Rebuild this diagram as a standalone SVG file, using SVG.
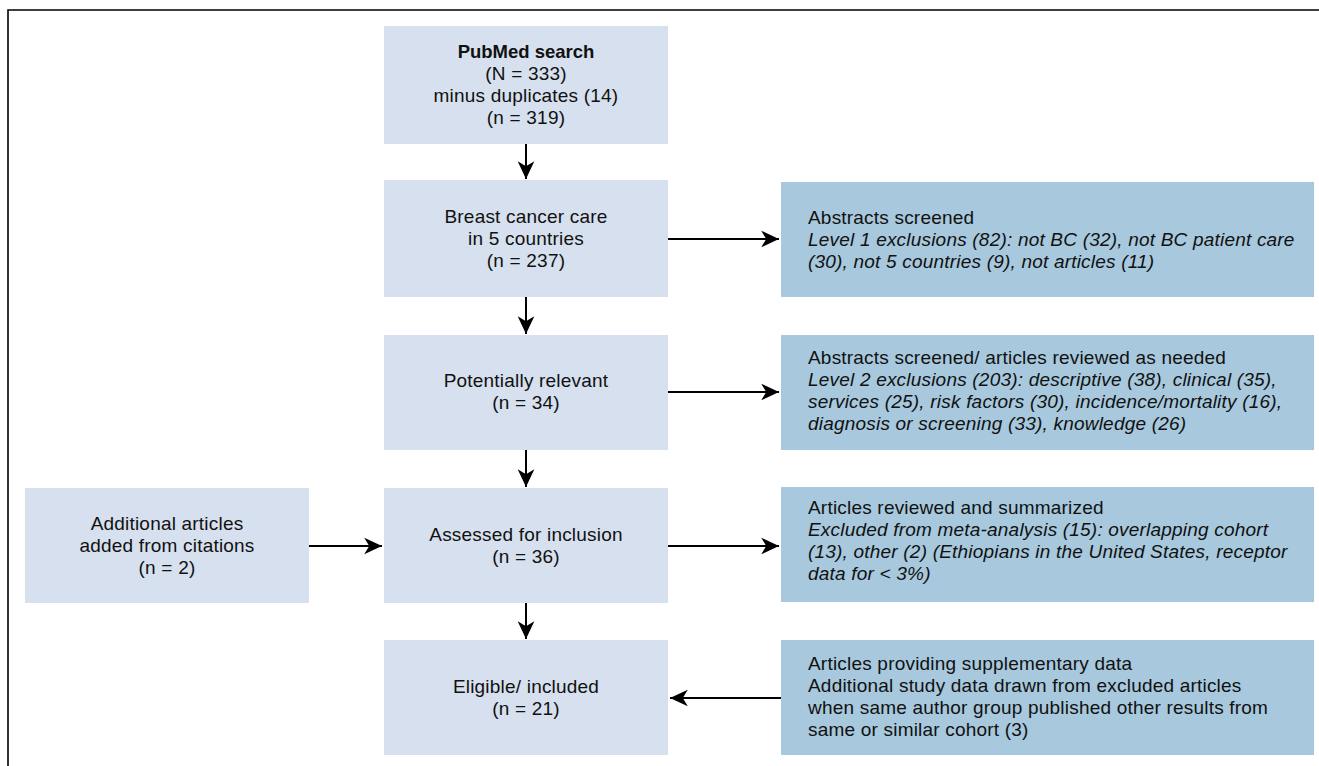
<svg xmlns="http://www.w3.org/2000/svg" width="1319" height="766" viewBox="0 0 1319 766">
<style>
text{font-family:"Liberation Sans",Arial,sans-serif;font-size:19px;letter-spacing:0.2px;fill:#111}
.c{text-anchor:middle}
.b{font-weight:bold;font-size:18.5px;letter-spacing:0}
.i{font-style:italic}
.lb{fill:#D6E0EE}
.db{fill:#A7C8DD}
.ln{stroke:#000;stroke-width:2;fill:none}
.frame{stroke:#000;stroke-width:1.6;fill:none}
</style>
<defs>
<marker id="ah" markerUnits="userSpaceOnUse" markerWidth="20" markerHeight="20" viewBox="-17 -9 18 18" refX="0" refY="0" orient="auto">
<path d="M0,0 L-16,-7.5 L-11.5,0 L-16,7.5 Z" fill="#000"/>
</marker>
</defs>
<rect width="1319" height="766" fill="#fff"/>
<path class="frame" d="M8,766 V10 H1319"/>
<g id="n1"><rect class="lb" x="384" y="26" width="284" height="118"/>
<text class="c b" x="526" y="58">PubMed search</text>
<text class="c" x="526" y="80">(N = 333)</text>
<text class="c" x="526" y="102">minus duplicates (14)</text>
<text class="c" x="526" y="124">(n = 319)</text></g>
<g id="n2"><rect class="lb" x="384" y="180" width="284" height="117"/>
<text class="c" x="526" y="223">Breast cancer care</text>
<text class="c" x="526" y="245">in 5 countries</text>
<text class="c" x="526" y="267">(n = 237)</text></g>
<g id="n3"><rect class="lb" x="384" y="335" width="284" height="115"/>
<text class="c" x="526" y="387">Potentially relevant</text>
<text class="c" x="526" y="409">(n = 34)</text></g>
<g id="n4"><rect class="lb" x="384" y="488" width="284" height="115"/>
<text class="c" x="526" y="541">Assessed for inclusion</text>
<text class="c" x="526" y="563">(n = 36)</text></g>
<g id="n5"><rect class="lb" x="384" y="640" width="284" height="115"/>
<text class="c" x="526" y="693">Eligible/ included</text>
<text class="c" x="526" y="715">(n = 21)</text></g>
<g id="n6"><rect class="lb" x="25" y="488" width="284" height="115"/>
<text class="c" x="167" y="530">Additional articles</text>
<text class="c" x="167" y="552">added from citations</text>
<text class="c" x="167" y="574">(n = 2)</text></g>
<g id="r1"><rect class="db" x="781" y="182" width="533" height="115"/>
<text x="808" y="224">Abstracts screened</text>
<text class="i" x="808" y="246">Level 1 exclusions (82): not BC (32), not BC patient care</text>
<text class="i" x="808" y="268">(30), not 5 countries (9), not articles (11)</text></g>
<g id="r2"><rect class="db" x="781" y="335" width="533" height="115"/>
<text x="808" y="364">Abstracts screened/ articles reviewed as needed</text>
<text class="i" x="808" y="386">Level 2 exclusions (203): descriptive (38), clinical (35),</text>
<text class="i" x="808" y="408">services (25), risk factors (30), incidence/mortality (16),</text>
<text class="i" x="808" y="430">diagnosis or screening (33), knowledge (26)</text></g>
<g id="r3"><rect class="db" x="781" y="487" width="533" height="115"/>
<text x="808" y="514">Articles reviewed and summarized</text>
<text class="i" x="808" y="536">Excluded from meta-analysis (15): overlapping cohort</text>
<text class="i" x="808" y="558">(13), other (2) (Ethiopians in the United States, receptor</text>
<text class="i" x="808" y="580">data for &lt; 3%)</text></g>
<g id="r4"><rect class="db" x="781" y="640" width="533" height="115"/>
<text x="808" y="670">Articles providing supplementary data</text>
<text x="808" y="692">Additional study data drawn from excluded articles</text>
<text x="808" y="714">when same author group published other results from</text>
<text x="808" y="736">same or similar cohort (3)</text></g>
<g id="connectors">
<line class="ln" x1="526" y1="144" x2="526" y2="179" marker-end="url(#ah)"/>
<line class="ln" x1="526" y1="297" x2="526" y2="334" marker-end="url(#ah)"/>
<line class="ln" x1="526" y1="450" x2="526" y2="487" marker-end="url(#ah)"/>
<line class="ln" x1="526" y1="603" x2="526" y2="639" marker-end="url(#ah)"/>
<line class="ln" x1="668" y1="239" x2="779" y2="239" marker-end="url(#ah)"/>
<line class="ln" x1="668" y1="392" x2="779" y2="392" marker-end="url(#ah)"/>
<line class="ln" x1="668" y1="546" x2="779" y2="546" marker-end="url(#ah)"/>
<line class="ln" x1="309" y1="546" x2="382" y2="546" marker-end="url(#ah)"/>
<line class="ln" x1="781" y1="698" x2="670" y2="698" marker-end="url(#ah)"/>
</g>
</svg>
